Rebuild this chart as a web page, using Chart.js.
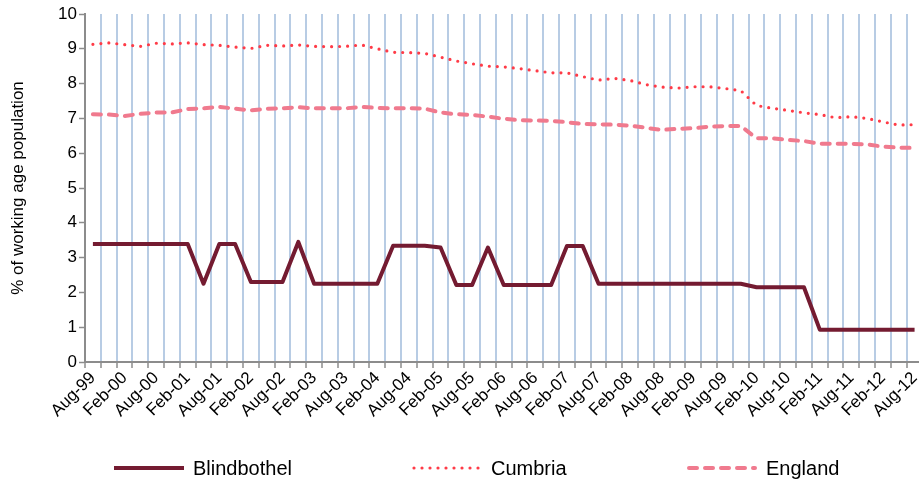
<!DOCTYPE html>
<html>
<head>
<meta charset="utf-8">
<script src="https://cdn.jsdelivr.net/npm/chart.js@4/dist/chart.umd.min.js"></script>
<style>
  html, body { margin: 0; padding: 0; background: #fff; overflow: hidden; }
  #wrap { position: relative; width: 919px; height: 486px; overflow: hidden; }
  #c { position: absolute; left: 0; top: 0; }
  #legend { position: absolute; left: 0; top: 453px; width: 919px; height: 30px; font-family: 'Liberation Sans', Arial, sans-serif; font-size: 20px; color: #000; }
  .item { position: absolute; top: 0; height: 30px; display: flex; align-items: center; }
  .item svg { margin-right: 7px; }
</style>
</head>
<body>
<div id="wrap">
  <canvas id="c" width="929" height="486"></canvas>
  <div id="legend"></div>
</div>
<script>
const categories = ["Aug-99","Nov-99","Feb-00","May-00","Aug-00","Nov-00","Feb-01","May-01","Aug-01","Nov-01",
  "Feb-02","May-02","Aug-02","Nov-02","Feb-03","May-03","Aug-03","Nov-03","Feb-04","May-04",
  "Aug-04","Nov-04","Feb-05","May-05","Aug-05","Nov-05","Feb-06","May-06","Aug-06","Nov-06",
  "Feb-07","May-07","Aug-07","Nov-07","Feb-08","May-08","Aug-08","Nov-08","Feb-09","May-09",
  "Aug-09","Nov-09","Feb-10","May-10","Aug-10","Nov-10","Feb-11","May-11","Aug-11","Nov-11",
  "Feb-12","May-12","Aug-12"];

const blindbothel = [3.39,3.39,3.39,3.39,3.39,3.39,3.39,2.25,3.39,3.39,
  2.30,2.30,2.30,3.45,2.25,2.25,2.25,2.25,2.25,3.34,
  3.34,3.34,3.29,2.21,2.21,3.29,2.21,2.21,2.21,2.21,
  3.33,3.33,2.25,2.25,2.25,2.25,2.25,2.25,2.25,2.25,
  2.25,2.25,2.15,2.15,2.15,2.15,0.93,0.93,0.93,0.93,
  0.93,0.93,0.93];

const cumbria = [9.13,9.17,9.12,9.07,9.16,9.14,9.17,9.12,9.10,9.05,
  9.01,9.10,9.08,9.11,9.07,9.06,9.07,9.11,9.00,8.90,
  8.89,8.87,8.76,8.65,8.57,8.50,8.48,8.43,8.37,8.31,
  8.31,8.20,8.10,8.15,8.09,7.97,7.90,7.87,7.91,7.91,
  7.86,7.80,7.37,7.29,7.23,7.16,7.11,7.02,7.05,7.00,
  6.90,6.81,6.82];

const england = [7.12,7.11,7.07,7.13,7.17,7.17,7.27,7.29,7.33,7.28,
  7.23,7.28,7.29,7.32,7.29,7.29,7.29,7.33,7.30,7.29,
  7.29,7.28,7.17,7.12,7.10,7.05,6.99,6.95,6.94,6.93,
  6.89,6.84,6.83,6.82,6.79,6.73,6.67,6.70,6.72,6.76,
  6.78,6.78,6.43,6.43,6.38,6.35,6.27,6.27,6.27,6.25,
  6.19,6.16,6.15];

const yTicks = [0,1,2,3,4,5,6,7,8,9,10];
const seriesNames = ["Blindbothel","Cumbria","England"];

const FONT = "'Liberation Sans', Arial, sans-serif";
const GREY = '#8c8c8c';

const styles = [
  { color: '#741b31', width: 4, dash: [], cap: 'butt' },
  { color: '#ff3b47', width: 3.2, dash: [0, 8], cap: 'round' },
  { color: '#f07a8e', width: 4, dash: [8, 8], cap: 'round' }
];
const seriesData = [blindbothel, cumbria, england];

const datasets = seriesNames.map((name, k) => ({
  label: name,
  data: seriesData[k],
  borderColor: styles[k].color,
  backgroundColor: styles[k].color,
  borderWidth: styles[k].width,
  borderDash: styles[k].dash,
  borderCapStyle: styles[k].cap,
  borderJoinStyle: 'round',
  pointRadius: 0,
  pointHoverRadius: 0,
  tension: 0,
  fill: false
}));

new Chart(document.getElementById('c'), {
  type: 'line',
  data: { labels: categories, datasets: datasets },
  options: {
    responsive: false,
    animation: false,
    events: [],
    layout: { padding: { top: 14, right: 0, bottom: 0, left: 0 } },
    plugins: { legend: { display: false }, tooltip: { enabled: false } },
    scales: {
      x: {
        type: 'category',
        offset: true,
        afterFit: (s) => { s.height = 124; },
        grid: {
          offset: true,
          color: (ctx) => (ctx.index === 0 ? 'rgba(0,0,0,0)' : '#b8cce4'),
          lineWidth: 2,
          drawTicks: true,
          tickLength: 6,
          tickColor: GREY,
          tickWidth: 1.5
        },
        border: { display: true, color: GREY, width: 2 },
        ticks: {
          autoSkip: false,
          minRotation: 45,
          maxRotation: 45,
          padding: 0,
          color: '#000',
          font: { family: FONT, size: 17 },
          callback: function (v, i) { return i % 2 === 0 ? categories[i] : ''; }
        }
      },
      y: {
        min: 0,
        max: 10,
        afterFit: (s) => { s.width = 85; },
        afterBuildTicks: (s) => { s.ticks = yTicks.map(v => ({ value: v })); },
        grid: { drawOnChartArea: false, drawTicks: true, tickLength: 6, tickColor: GREY, tickWidth: 1.5 },
        border: { display: true, color: GREY, width: 2 },
        ticks: { color: '#000', padding: 2, font: { family: FONT, size: 17 } },
        title: { display: true, text: '% of working age population', color: '#000', font: { family: FONT, size: 17 }, padding: { top: 8, bottom: 4 } }
      }
    }
  }
});

// HTML legend built from the dataset styles
const legendPos = [114, 412, 687];
const legend = document.getElementById('legend');
seriesNames.forEach((name, k) => {
  const st = styles[k];
  const item = document.createElement('div');
  item.className = 'item';
  item.style.left = legendPos[k] + 'px';
  const w = 70;
  item.innerHTML = '<svg width="' + (w + 2) + '" height="10"><line x1="' + (st.cap === 'round' ? 2 : 0) + '" y1="5" x2="' + (st.cap === 'round' ? w - 2 : w) + '" y2="5" stroke="' + st.color +
    '" stroke-width="' + st.width + '" stroke-linecap="' + st.cap + '"' + (st.dash.length ? ' stroke-dasharray="' + st.dash.join(' ') + '"' : '') + '/></svg><span>' + name + '</span>';
  legend.appendChild(item);
});
</script>
</body>
</html>
